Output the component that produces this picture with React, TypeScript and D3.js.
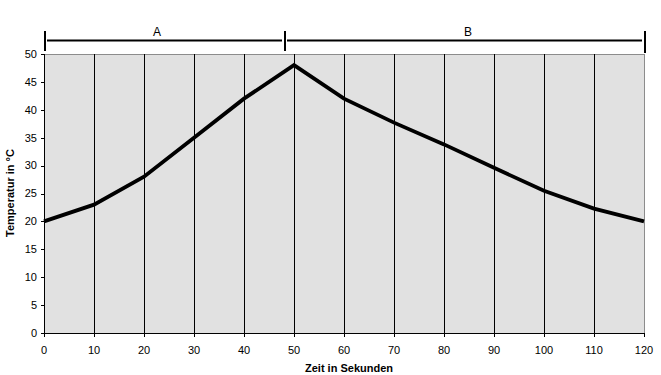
import React from 'react';
import * as d3 from 'd3';

const zeit = [0, 10, 20, 30, 40, 50, 60, 70, 80, 90, 100, 110, 120];
const temperatur = [20, 23, 28, 35, 42, 48, 42, 37.7, 33.8, 29.6, 25.5, 22.3, 20];
const yTicks = [0, 5, 10, 15, 20, 25, 30, 35, 40, 45, 50];
const phaseBounds = [0, 48, 120];
const phaseLabels = ['A', 'B'];

const W = 661;
const H = 375;
const margin = { top: 54, right: 17, bottom: 42, left: 44 };
const font = 'Arial, "Liberation Sans", sans-serif';
// Beschriftung der Phasen sitzt in der Vorlage nicht genau mittig
const labelPos = [22.6, 84.8];

export default function App() {
  const x = d3.scaleLinear().domain([0, 120]).range([margin.left, W - margin.right]);
  const y = d3.scaleLinear().domain([0, 50]).range([H - margin.bottom, margin.top]);
  const x0 = x(0);
  const x1 = x(120);
  const y0 = y(0);
  const y1 = y(50);

  const line = d3
    .line<number>()
    .x((_, i) => x(zeit[i]))
    .y((d) => y(d));

  const bracketY = 40.5;

  return (
    <svg
      width={W}
      height={H}
      style={{ position: 'absolute', left: 0, top: 0, background: '#fff' }}
      fontFamily={font}
    >
      {/* Plotfläche */}
      <rect x={x0} y={y1} width={x1 - x0} height={y0 - y1} fill="#e1e1e1" />
      <line x1={x0} x2={x1} y1={y1 + 0.5} y2={y1 + 0.5} stroke="#8c8c8c" />
      <line x1={x1 + 0.5} x2={x1 + 0.5} y1={y1} y2={y0} stroke="#8c8c8c" />

      {/* vertikale Gitterlinien */}
      {zeit.slice(1, -1).map((t) => (
        <line key={t} x1={Math.round(x(t)) + 0.5} x2={Math.round(x(t)) + 0.5} y1={y1} y2={y0} stroke="#000" />
      ))}

      {/* Achsen */}
      <line x1={x0 + 0.5} x2={x0 + 0.5} y1={y1} y2={y0 + 0.5} stroke="#000" />
      <line x1={x0} x2={x1 + 1} y1={y0 + 0.5} y2={y0 + 0.5} stroke="#000" />

      {yTicks.map((t) => (
        <g key={t}>
          <line x1={x0 - 3} x2={x0} y1={Math.round(y(t)) + 0.5} y2={Math.round(y(t)) + 0.5} stroke="#000" />
          <text x={x0 - 7} y={y(t)} dy="0.35em" textAnchor="end" fontSize={11} fill="#000">
            {t}
          </text>
        </g>
      ))}

      {zeit.map((t) => (
        <g key={t}>
          <line x1={Math.round(x(t)) + 0.5} x2={Math.round(x(t)) + 0.5} y1={y0} y2={y0 + 4} stroke="#000" />
          <text x={x(t)} y={354} textAnchor="middle" fontSize={11} fill="#000">
            {t}
          </text>
        </g>
      ))}

      {/* Temperaturkurve */}
      <path d={line(temperatur) || ''} fill="none" stroke="#000" strokeWidth={3.8} strokeLinejoin="miter" />

      {/* Phasen A / B */}
      {phaseLabels.map((lab, i) => {
        const a = x(phaseBounds[i]);
        const b = x(phaseBounds[i + 1]);
        return (
          <g key={lab}>
            <line x1={a + 3} x2={b - 2} y1={bracketY} y2={bracketY} stroke="#000" strokeWidth={2} />
            <text x={x(labelPos[i])} y={36} textAnchor="middle" fontSize={12} fill="#000">
              {lab}
            </text>
          </g>
        );
      })}
      {phaseBounds.map((p, i) => (
        <line key={i} x1={x(p) + 1} x2={x(p) + 1} y1={31} y2={i === 2 ? 53 : 51} stroke="#000" strokeWidth={2} />
      ))}

      {/* Achsentitel */}
      <text x={349} y={372} textAnchor="middle" fontSize={11} fontWeight="bold" fill="#000">
        Zeit in Sekunden
      </text>
      <text
        transform="translate(14,193) rotate(-90)"
        textAnchor="middle"
        fontSize={11}
        fontWeight="bold"
        fill="#000"
      >
        Temperatur in °C
      </text>
    </svg>
  );
}
